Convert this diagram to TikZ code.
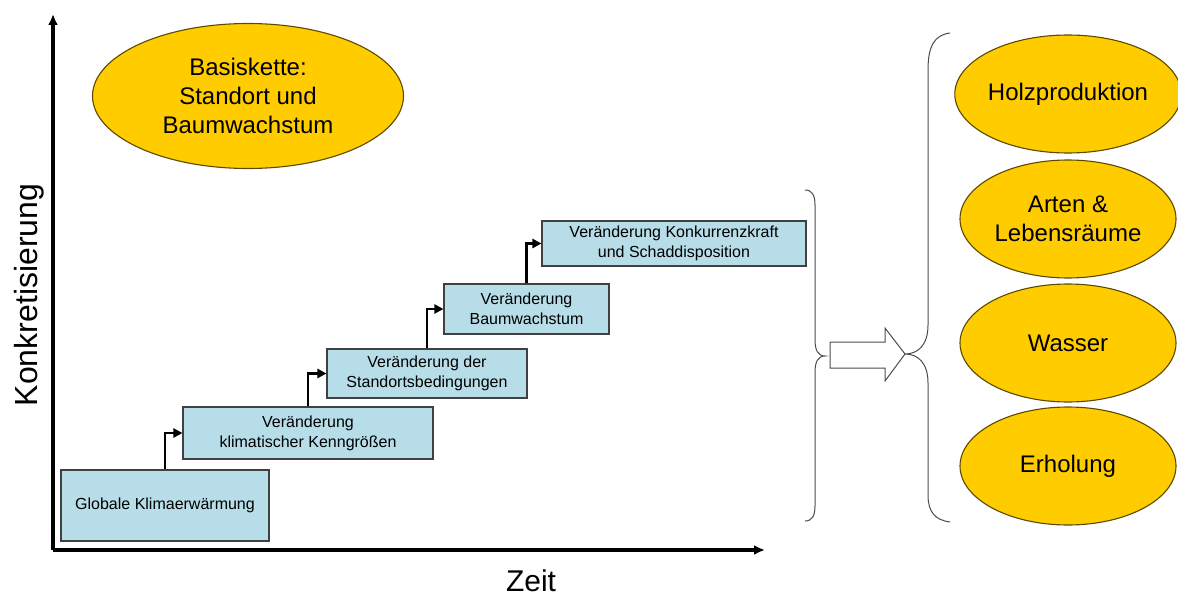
\documentclass[tikz,border=0pt]{standalone}
\usepackage{fontspec}
\setmainfont{Liberation Sans}
\usetikzlibrary{arrows.meta,shapes.geometric}
\definecolor{stepblue}{HTML}{B7DDE8}
\definecolor{goal}{HTML}{FFCC00}
\definecolor{goalrim}{HTML}{5C4A00}

\begin{document}
\begin{tikzpicture}[x=1pt,y=-1pt,
 stepbox/.style={rectangle,draw=black!75,line width=1.1pt,fill=stepblue,align=center,
   inner sep=0pt,font=\fontsize{16}{20}\selectfont},
 goalnode/.style={ellipse,draw=goalrim,line width=1.1pt,fill=goal,align=center,
   inner sep=0pt,font=\fontsize{24}{29}\selectfont},
 stepline/.style={-{Triangle[length=9pt,width=9pt]},line width=2.4pt},
 axis/.style={-{Latex[length=11pt,width=10pt]},line width=3.4pt},
 brace/.style={draw=black!70,line width=1pt}]
\path[use as bounding box] (0,0) rectangle (1178,599);
\coordinate (O) at (53,550);
\coordinate (ytip) at (53,14);
\coordinate (xtip) at (765,550);
% Axes with their titles.
\draw[axis] (O) -- (ytip);
\draw[axis] (O) -- (xtip);
\node[rotate=90,inner sep=0pt,font=\fontsize{32}{36}\selectfont] (ylab) at (29,295) {Konkretisierung};
\node[inner sep=0pt,font=\fontsize{30}{36}\selectfont] (xlab) at (531,581) {Zeit};
\node[goalnode,minimum width=311,minimum height=145] (basis) at (248,96)
  {Basiskette:\\Standort und\\Baumwachstum};
% The staircase of changes.
\node[stepbox,minimum width=208,minimum height=71] (glob) at (165,505.5) {Globale Klimaerwärmung};
\node[stepbox,minimum width=250,minimum height=52] (klima) at (308,433) {Veränderung\\klimatischer Kenngrößen};
\node[stepbox,minimum width=200,minimum height=49] (stand) at (427,373.5) {Veränderung der\\Standortsbedingungen};
\node[stepbox,minimum width=165,minimum height=50] (wuchs) at (526.5,309) {Veränderung\\Baumwachstum};
\node[stepbox,minimum width=264,minimum height=45] (konk) at (674,243.5) {Veränderung Konkurrenzkraft\\und Schaddisposition};
\draw[stepline] (glob.north) |- (klima.west);
\draw[stepline] (klima.north) |- (stand.west);
\draw[stepline] (stand.north) |- (wuchs.west);
\draw[stepline] (wuchs.north) |- (konk.west);
% Braces and the hollow arrow between them.
\coordinate (lcusp) at (825,356);
\coordinate (rcusp) at (905,354);
\draw[brace] (805,190) .. controls (812,190) and (815,195) .. (815,205) -- (815,340)
  .. controls (815,350) and (818,356) .. (lcusp) .. controls (818,356) and (815,362) .. (815,372)
  -- (815,506) .. controls (815,516) and (812,521) .. (805,521);
\draw[brace] (950,33) .. controls (935,35) and (928,45) .. (928,70) -- (928,325)
  .. controls (928,345) and (918,354) .. (rcusp) .. controls (918,354) and (928,363) .. (928,383)
  -- (928,495) .. controls (928,512) and (935,520) .. (950,522);
\draw[draw=black!70,line width=1pt,fill=white] (830,342) -- (885,342) -- (885,328) -- (rcusp)
  -- (885,381) -- (885,368) -- (830,368) -- cycle;
% Goals on the right.
\node[goalnode,minimum width=216,minimum height=118] (holz) at (1068,94) {Holzproduktion};
\node[goalnode,minimum width=216,minimum height=118] (arten) at (1068,219) {Arten \&\\Lebensräume};
\node[goalnode,minimum width=216,minimum height=118] (wasser) at (1068,343) {Wasser};
\node[goalnode,minimum width=216,minimum height=118] (erhol) at (1068,466) {Erholung};
\end{tikzpicture}
\end{document}
